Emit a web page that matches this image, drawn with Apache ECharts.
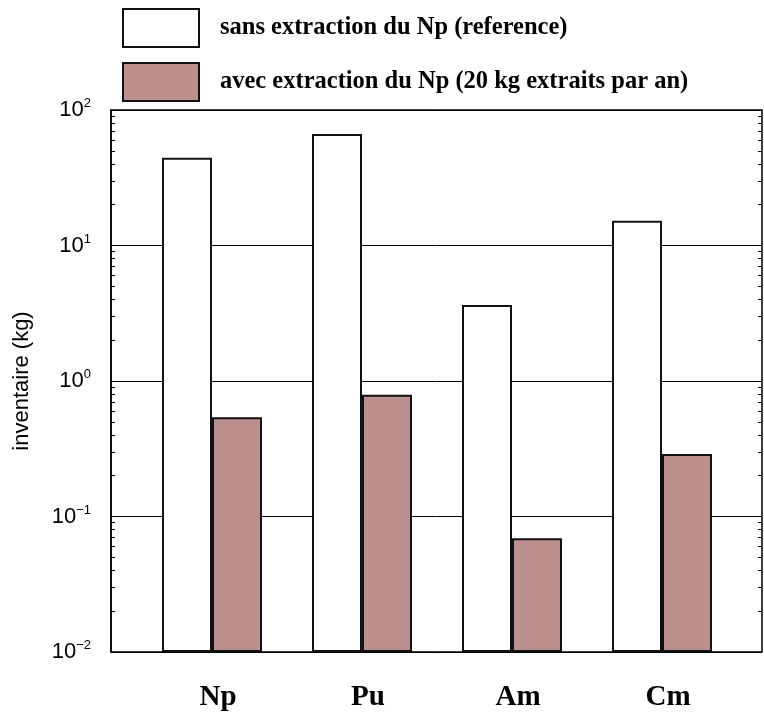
<!DOCTYPE html>
<html><head><meta charset="utf-8">
<script src="https://cdn.jsdelivr.net/npm/echarts@6/dist/echarts.min.js"></script>
<style>html,body{margin:0;padding:0;background:#fff}#c{width:764px;height:715px}</style>
</head><body><div id="c"></div>
<script>
const categories = ['Np', 'Pu', 'Am', 'Cm'];
const seriesNames = ['sans extraction du Np (reference)', 'avec extraction du Np (20 kg extraits par an)'];
const sansExtraction = [44.5, 66.5, 3.64, 15.2];
const avecExtraction = [0.54, 0.79, 0.069, 0.289];
const decadeExponents = [-2, -1, 0, 1, 2];
const minorMultipliers = [1, 2, 3, 4, 5, 6, 7, 8, 9];

const tickExps = [];
for (let i = 0; i < decadeExponents.length - 1; i++) {
  for (const m of minorMultipliers) tickExps.push(decadeExponents[i] + Math.log10(m));
}
tickExps.push(decadeExponents[decadeExponents.length - 1]);

function supLabel(v) {
  const e = Math.round(v);
  return '{b|10}{s|' + (e < 0 ? '\u2212' + (-e) : e) + '}';
}
const richLab = {
  b: { fontFamily: 'Liberation Sans', fontSize: 22, color: '#000', lineHeight: 26 },
  s: { fontFamily: 'Liberation Sans', fontSize: 13, color: '#000', verticalAlign: 'top', lineHeight: 13 }
};

const chart = echarts.init(document.getElementById('c'), null, { renderer: 'canvas' });
const FR = { left: 111, right: 2, top: 110, bottom: 63 };
chart.setOption({
  animation: false,
  backgroundColor: '#fff',
  legend: {
    orient: 'vertical', left: 122, top: 8, padding: 0, itemWidth: 76, itemHeight: 38, itemGap: 14,
    icon: 'rect', selectedMode: false, data: seriesNames,
    textStyle: { fontFamily: 'Liberation Serif', fontWeight: 'bold', fontSize: 24.5, color: '#000', padding: [0, 0, 0, 16] }
  },
  grid: [
    { left: FR.left, right: FR.right, top: FR.top, bottom: FR.bottom, show: true, borderColor: '#000', borderWidth: 1.5, backgroundColor: 'transparent' },
    { left: 137, right: 27, top: FR.top, bottom: FR.bottom }
  ],
  xAxis: [
    { type: 'value', gridIndex: 0, min: 0, max: 1, show: false },
    { type: 'category', gridIndex: 1, data: categories,
      axisLine: { show: false }, axisTick: { show: false }, splitLine: { show: false },
      axisLabel: { fontFamily: 'Liberation Serif', fontWeight: 'bold', fontSize: 29, color: '#000', margin: 31, padding: [0, 0, 0, 12] } }
  ],
  yAxis: [
    { type: 'value', gridIndex: 0, position: 'left', min: -2, max: 2, interval: 1,
      name: 'inventaire (kg)', nameLocation: 'middle', nameRotate: 90, nameGap: 78,
      nameTextStyle: { fontFamily: 'Liberation Sans', fontSize: 22, color: '#000' },
      axisLine: { show: true, lineStyle: { color: '#000', width: 1.5 } },
      axisTick: { show: false },
      splitLine: { show: true, lineStyle: { color: '#000', width: 1 } },
      axisLabel: { formatter: supLabel, margin: 20, rich: richLab } },
    { type: 'value', gridIndex: 0, position: 'left', min: -2, max: 2,
      axisLine: { show: false }, axisLabel: { show: false }, splitLine: { show: false },
      axisTick: { show: true, inside: true, length: 4, customValues: tickExps, lineStyle: { color: '#000', width: 1 } } },
    { type: 'value', gridIndex: 0, position: 'right', min: -2, max: 2,
      axisLine: { show: false }, axisLabel: { show: false }, splitLine: { show: false },
      axisTick: { show: true, inside: true, length: 4, customValues: tickExps, lineStyle: { color: '#000', width: 1 } } },
    { type: 'log', gridIndex: 1, logBase: 10, min: 0.01, max: 100, startValue: 0.01, show: false }
  ],
  series: [
    { name: seriesNames[0], type: 'bar', xAxisIndex: 1, yAxisIndex: 3, data: sansExtraction,
      barWidth: 50, barGap: '0%', itemStyle: { color: '#ffffff', borderColor: '#111', borderWidth: 2 } },
    { name: seriesNames[1], type: 'bar', xAxisIndex: 1, yAxisIndex: 3, data: avecExtraction,
      barWidth: 50, barGap: '0%', itemStyle: { color: '#bc8f8f', borderColor: '#111', borderWidth: 2 } }
  ]
});
</script></body></html>
